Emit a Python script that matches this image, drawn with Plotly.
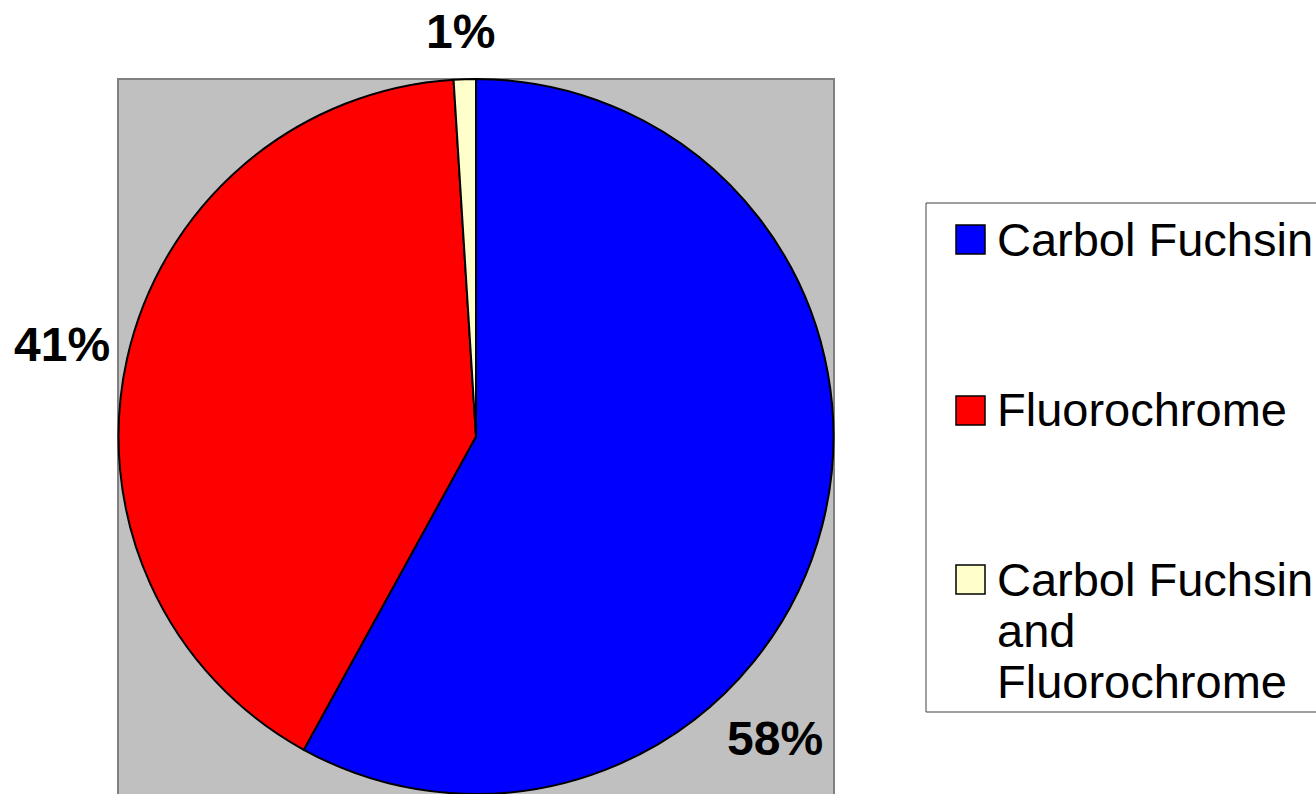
import plotly.graph_objects as go

# ---- data ----
labels = ["Carbol Fuchsin", "Fluorochrome", "Carbol Fuchsin and Fluorochrome"]
values = [58, 41, 1]
colors = ["#0000FF", "#FF0000", "#FFFFCC"]
legend_lines = [["Carbol Fuchsin"], ["Fluorochrome"], ["Carbol Fuchsin", "and", "Fluorochrome"]]

# ---- layout config ----
W, H = 1316, 794
FONT = "Liberation Sans, Arial, sans-serif"
FS = 47
FS_LBL = 48

def px(x):
    return x / W

def py(y):
    return min(1.0, max(0.0, 1 - y / H))

pie_left, pie_right, pie_top, pie_bottom = 118, 834, 79, 794

fig = go.Figure()
fig.add_trace(go.Pie(
    labels=labels,
    values=values,
    sort=False,
    direction="clockwise",
    rotation=0,
    marker=dict(colors=colors, line=dict(color="black", width=2)),
    textinfo="none",
    hoverinfo="label+percent",
    showlegend=False,
    domain=dict(x=[px(pie_left), px(pie_right)], y=[py(pie_bottom), py(pie_top)]),
))

shapes = []
annotations = []

# gray plot-area background
shapes.append(dict(type="rect", xref="paper", yref="paper",
                   x0=px(pie_left), x1=px(pie_right), y0=-0.05, y1=py(pie_top),
                   fillcolor="#C0C0C0", line=dict(color="#808080", width=2), layer="below"))

# percentage labels
total = sum(values)
label_pos = [(775, 738), (62, 345), (460, 31)]
for v, (lx, ly) in zip(values, label_pos):
    annotations.append(dict(x=px(lx), y=py(ly), xref="paper", yref="paper",
                            text=f"<b>{round(100 * v / total)}%</b>", showarrow=False,
                            xanchor="center", yanchor="middle",
                            font=dict(family=FONT, size=FS_LBL, color="black")))

# legend box
shapes.append(dict(type="rect", xref="paper", yref="paper",
                   x0=px(926), x1=1.05, y0=py(712), y1=py(203),
                   fillcolor="white", line=dict(color="#404040", width=1), layer="below"))

row_y = [239, 410, 579]
line_gap = 51
for color, lines, ry in zip(colors, legend_lines, row_y):
    shapes.append(dict(type="rect", xref="paper", yref="paper",
                       x0=px(956), x1=px(985), y0=py(ry + 15), y1=py(ry - 14),
                       fillcolor=color, line=dict(color="black", width=1.5)))
    for i, t in enumerate(lines):
        annotations.append(dict(x=px(995), y=py(ry + i * line_gap), xref="paper", yref="paper",
                                text=t, showarrow=False, xanchor="left", yanchor="middle",
                                font=dict(family=FONT, size=FS, color="black")))

fig.update_layout(
    width=W, height=H,
    margin=dict(l=0, r=0, t=0, b=0),
    paper_bgcolor="white",
    plot_bgcolor="white",
    shapes=shapes,
    annotations=annotations,
    showlegend=False,
)

fig.write_html(
    "out.html",
    config={"displayModeBar": False},
    post_script="document.body.style.margin='0';document.body.style.overflow='hidden';",
)
